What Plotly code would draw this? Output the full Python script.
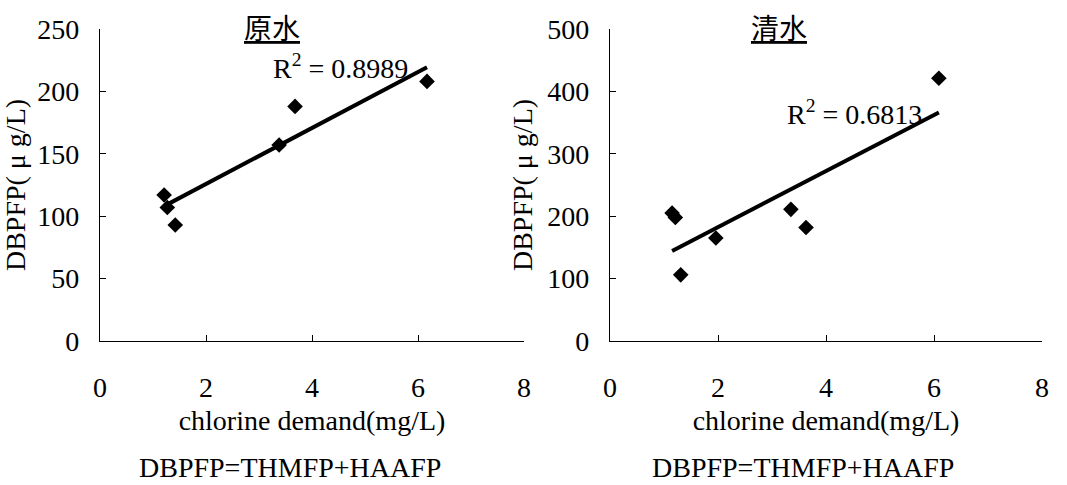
import numpy as np
import plotly.graph_objects as go

# ---- data ----
raw_x = [1.21, 1.27, 1.42, 3.38, 3.68, 6.17]
raw_y = [117, 107, 93, 157, 188, 208]
clean_x = [1.15, 1.21, 1.31, 1.96, 3.35, 3.63, 6.09]
clean_y = [205, 198, 106, 165, 211, 182, 421]
panel_titles = ["原水", "清水"]
r2_texts = ["R<sup>2</sup> = 0.8989", "R<sup>2</sup> = 0.6813"]
x_title = "chlorine demand(mg/L)"
y_title = "DBPFP( μ g/L)"
note = "DBPFP=THMFP+HAAFP"
x_ticks = [0, 2, 4, 6, 8]
y1_ticks = [0, 50, 100, 150, 200, 250]
y2_ticks = [0, 100, 200, 300, 400, 500]

SERIF = "Liberation Serif"
FS = 28
W, H = 1067, 485

fig = go.Figure()

def add_panel(xs, ys, xa, ya):
    fig.add_trace(go.Scatter(x=xs, y=ys, mode="markers", xaxis=xa, yaxis=ya,
                             marker=dict(symbol="diamond", size=12, color="black"),
                             showlegend=False))
    k, b = np.polyfit(xs, ys, 1)
    lx = [min(xs), max(xs)]
    fig.add_trace(go.Scatter(x=lx, y=[k * v + b for v in lx], mode="lines",
                             xaxis=xa, yaxis=ya, line=dict(color="black", width=4),
                             showlegend=False))

add_panel(raw_x, raw_y, "x", "y")
add_panel(clean_x, clean_y, "x2", "y2")

ydom = [1 - 341 / H, 1 - 29 / H]
axis_common = dict(showgrid=False, zeroline=False, showline=True, linecolor="black",
                   linewidth=1.2, ticks="inside", ticklen=6, tickcolor="black",
                   automargin=False,
                   tickfont=dict(family=SERIF, size=FS, color="black"))
title_font = dict(family=SERIF, size=FS, color="black")

fig.update_layout(
    width=W, height=H,
    margin=dict(l=0, r=0, t=0, b=0),
    paper_bgcolor="white", plot_bgcolor="white",
    xaxis=dict(domain=[100 / W, 524 / W], range=[0, 8], tickvals=x_ticks,
               ticklabelstandoff=21, anchor="y",
               title=dict(text=x_title, standoff=8, font=title_font),
               **axis_common),
    yaxis=dict(domain=ydom, range=[0, 250], tickvals=y1_ticks, anchor="x",
               ticklabelstandoff=14,
               title=dict(text=y_title, standoff=6, font=title_font),
               **axis_common),
    xaxis2=dict(domain=[610 / W, 1042 / W], range=[0, 8], tickvals=x_ticks,
                ticklabelstandoff=21, anchor="y2",
                title=dict(text=x_title, standoff=8, font=title_font),
                **axis_common),
    yaxis2=dict(domain=ydom, range=[0, 500], tickvals=y2_ticks, anchor="x2",
                ticklabelstandoff=14,
                title=dict(text=y_title, standoff=6, font=title_font),
                **axis_common),
)

# panel titles
for t, cx in zip(panel_titles, [272, 779]):
    fig.add_annotation(text="<u>" + t + "</u>", x=cx / W, y=1 - 27 / H, xref="paper", yref="paper",
                       showarrow=False, xanchor="center", yanchor="middle",
                       font=dict(family="Noto Sans CJK SC", size=28, color="black"))

# R^2 labels
fig.add_annotation(text=r2_texts[0], x=4.53, y=220, xref="x", yref="y", showarrow=False,
                   font=dict(family=SERIF, size=FS, color="black"))
fig.add_annotation(text=r2_texts[1], x=4.52, y=366, xref="x2", yref="y2", showarrow=False,
                   font=dict(family=SERIF, size=FS, color="black"))

# bottom notes
for cx in [290, 803]:
    fig.add_annotation(text=note, x=cx / W, y=1 - 467 / H, xref="paper", yref="paper",
                       showarrow=False, xanchor="center", yanchor="middle",
                       font=dict(family=SERIF, size=FS, color="black"))

fig.write_html("out.html")
